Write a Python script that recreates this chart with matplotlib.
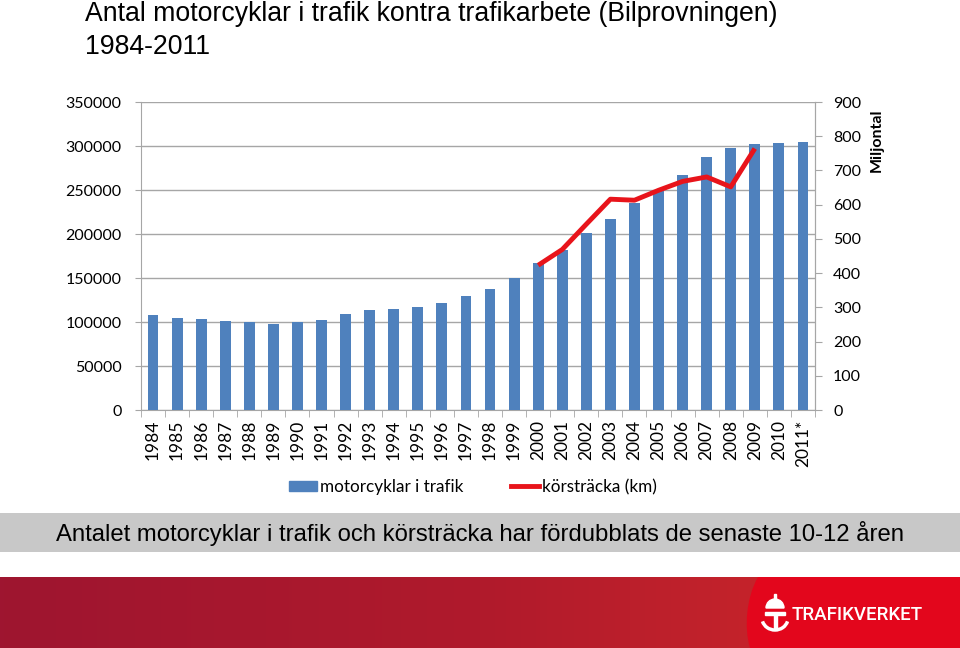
import numpy as np
import matplotlib.pyplot as plt
import matplotlib.patches as patches
from matplotlib.lines import Line2D
from matplotlib.path import Path
from matplotlib.colors import LinearSegmentedColormap

years = ['1984', '1985', '1986', '1987', '1988', '1989', '1990', '1991',
         '1992', '1993', '1994', '1995', '1996', '1997', '1998', '1999',
         '2000', '2001', '2002', '2003', '2004', '2005', '2006', '2007',
         '2008', '2009', '2010', '2011*']
motorcyklar = [108000, 104900, 103400, 101100, 100000, 98100, 100400, 102700,
               109500, 114000, 115200, 117400, 122000, 129900, 137500, 150000,
               167100, 181800, 201500, 216700, 234900, 248900, 267400, 287500,
               297700, 302700, 303400, 304900]
# körsträcka (miljontal km), bara 2000-2009
korstracka = [np.nan] * 16 + [423, 469, 543, 616, 613, 642, 668, 681, 652, 764,
                              np.nan, np.nan]

title = 'Antal motorcyklar i trafik kontra trafikarbete (Bilprovningen)\n1984-2011'
caption = 'Antalet motorcyklar i trafik och körsträcka har fördubblats de senaste 10-12 åren'

W, H = 960, 648
fig = plt.figure(figsize=(9.6, 6.48), dpi=100)
fig.patch.set_facecolor('white')

tick_font = 'Lato'
grid_col = '#a6a6a6'

# title
fig.text(85 / W, 1 - 1 / H, title, fontsize=19.2, family='Liberation Sans',
         va='top', ha='left', linespacing=1.33, color='black')

# main chart
ax = fig.add_axes([141 / W, 1 - 410 / H, (815 - 141) / W, (410 - 102) / H])
x = np.arange(len(years))
ax.bar(x, motorcyklar, width=0.45, color='#4f81bd', zorder=3)
ax.set_xlim(-0.5, len(years) - 0.5)
ax.set_ylim(0, 350000)
ax.set_yticks(np.arange(0, 350001, 50000))
ax.set_yticklabels([str(v) for v in range(0, 350001, 50000)],
                   fontsize=11.5, family=tick_font)
ax.grid(axis='y', color=grid_col, lw=1, zorder=0)
ax.set_xticks(x)
ax.set_xticklabels(years, rotation=90, fontsize=12.5, family=tick_font)
ax.set_xticks(np.arange(-0.5, len(years), 1), minor=True)
ax.tick_params(axis='x', which='major', length=0, pad=7)
ax.tick_params(axis='x', which='minor', length=5, color=grid_col, direction='out')
ax.tick_params(axis='y', length=4, color=grid_col, pad=10)
ax.spines['top'].set_visible(False)
for s in ['left', 'bottom', 'right']:
    ax.spines[s].set_color(grid_col)

ax2 = ax.twinx()
ax2.plot(x, korstracka, color='#e8141b', lw=3.5, zorder=4,
         solid_capstyle='butt')
ax2.set_ylim(0, 900)
ax2.set_yticks(np.arange(0, 901, 100))
ax2.set_yticklabels([str(v) for v in range(0, 901, 100)],
                    fontsize=11.5, family=tick_font)
ax2.tick_params(axis='y', length=5, color=grid_col, pad=8)
for s in ['top', 'left', 'bottom']:
    ax2.spines[s].set_visible(False)
ax2.spines['right'].set_color(grid_col)
fig.text(877 / W, 1 - 140 / H, 'Miljontal', rotation=90, fontsize=11.5,
         fontweight='bold', family=tick_font, ha='center', va='center')

handles = [patches.Patch(color='#4f81bd'),
           Line2D([], [], color='#e8141b', lw=3.5)]
fig.legend(handles, ['motorcyklar i trafik', 'körsträcka (km)'],
           loc='center', bbox_to_anchor=(473 / W, 1 - 487 / H), ncol=2,
           frameon=False, prop={'family': tick_font, 'size': 12.3},
           handlelength=1.6, handleheight=0.6, handletextpad=0.2,
           columnspacing=2.8)

# grey caption banner
band = fig.add_axes([0, 1 - 552 / H, 1, 39 / H])
band.set_facecolor('#c8c8c8')
band.set_xticks([])
band.set_yticks([])
for s in band.spines.values():
    s.set_visible(False)
band.text(0.5, 0.47, caption, fontsize=17.2, family='Liberation Sans',
          ha='center', va='center', transform=band.transAxes)

# red footer with gradient
foot = fig.add_axes([0, 0, 1, 71 / H])
grad = np.linspace(0, 1, 256).reshape(1, -1)
cmap = LinearSegmentedColormap.from_list('foot', ['#9e1530', '#b01a2c', '#d32a2a'])
foot.imshow(grad, aspect='auto', cmap=cmap, extent=[0, W, 0, 71])
verts = [(758, 71), (746, 50), (744, 20), (750, 0), (W, 0), (W, 71), (758, 71)]
codes = [Path.MOVETO, Path.CURVE4, Path.CURVE4, Path.CURVE4,
         Path.LINETO, Path.LINETO, Path.CLOSEPOLY]
foot.add_patch(patches.PathPatch(Path(verts, codes), facecolor='#e3061c',
                                 edgecolor='none'))
foot.set_xlim(0, W)
foot.set_ylim(0, 71)
foot.axis('off')

# logo: simple emblem + name
foot.add_patch(patches.Arc((775, 30), 26, 24, theta1=195, theta2=345,
                           color='white', lw=2.5))
foot.add_patch(patches.Rectangle((765, 33), 20, 3, color='white'))
foot.add_patch(patches.Rectangle((773.5, 19), 3, 15, color='white'))
foot.add_patch(patches.Wedge((775, 40), 9, 0, 180, color='white'))
foot.add_patch(patches.Rectangle((774, 49), 2, 5, color='white'))
foot.text(792, 33, 'TRAFIKVERKET', color='white', fontsize=13.5,
          fontweight='medium', family='Roboto', ha='left', va='center')

fig.savefig('out.png', dpi=100)
